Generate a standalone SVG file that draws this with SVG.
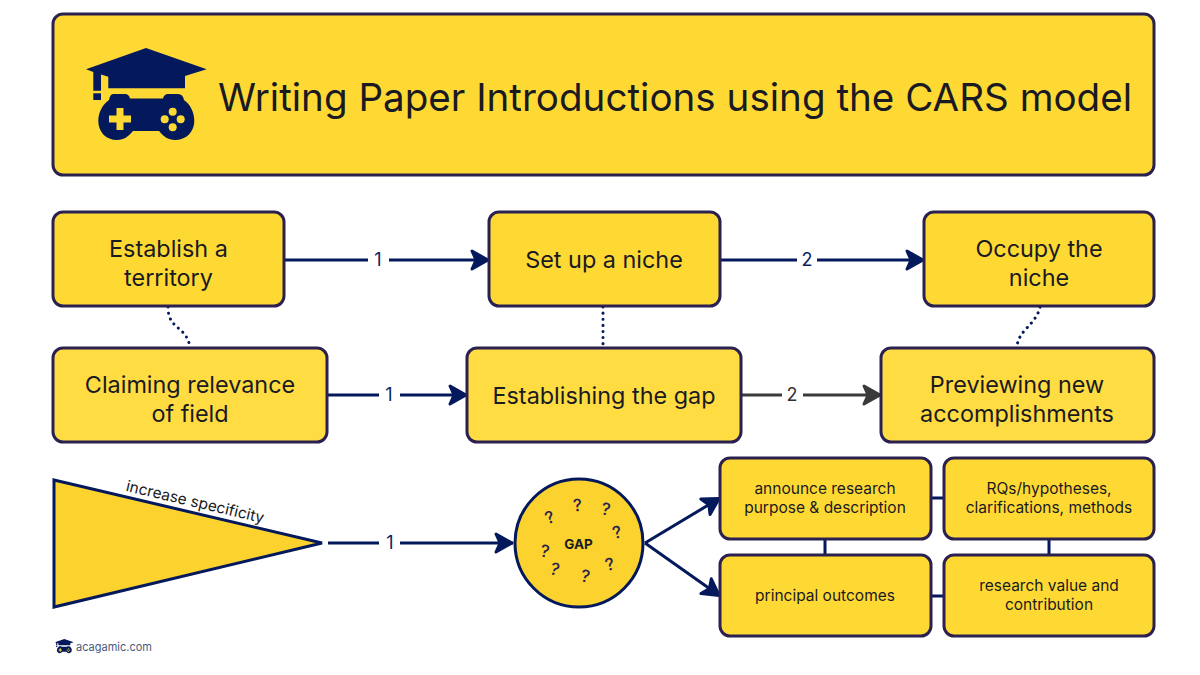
<svg xmlns="http://www.w3.org/2000/svg" width="1200" height="675" viewBox="0 0 1200 675">
<style>
text{font-family:"Inter","Noto Sans",sans-serif;fill:#1a1a22;text-anchor:middle}
.box{fill:#ffd933;stroke:#2a2150;stroke-width:3}
.box2{fill:#ffdc42;stroke:#2a2150;stroke-width:3}
.big{font-size:23.400px}
.small{font-size:15.500px}
.lbl{font-size:18px;fill:#0b1f5e}
.conn{fill:none;stroke:#04195c;stroke-width:3}
.gray{stroke:#3a3a3a}
.dot{fill:none;stroke:#04195c;stroke-width:3;stroke-dasharray:0.1 6;stroke-linecap:round}
.q{font-size:17px;font-weight:500;fill:#2a2150}
.ic{fill:#04195c}
.icy{fill:#ffd933}
</style>
<defs>
<marker id="a" markerUnits="userSpaceOnUse" markerWidth="26" markerHeight="28" refX="21" refY="14" orient="auto"><path d="M4 5 L20 14 L4 23 L8 14 Z" fill="#04195c" stroke="#04195c" stroke-width="3" stroke-linejoin="round"/></marker>
<marker id="g" markerUnits="userSpaceOnUse" markerWidth="26" markerHeight="28" refX="21" refY="14" orient="auto"><path d="M4 5 L20 14 L4 23 L8 14 Z" fill="#3a3a3a" stroke="#3a3a3a" stroke-width="3" stroke-linejoin="round"/></marker>
<g id="logo">
<path class="ic" d="M146 48 L206.700 69.300 L185 76 V88.300 H108.300 V76.700 L101 74.500 V90.700 H93.300 V72 L86 69.300 Z"/>
<rect class="ic" x="93.300" y="93.300" width="7.700" height="6.700"/>
<path class="ic" d="M113 94 H125 Q129 94 130 98.500 H163 Q164 94 168 94 H178 Q183 94 184 100 C190 104 194.300 112 194.300 121 C194.300 132 186 140 175 140 C168 140 163 136 159 131 H133 C129 136 124 140 117 140 C106 140 98.300 132 98.300 121 C98.300 112 103 104 109 100 Q110 94 113 94 Z"/>
<path class="icy" d="M116.500 108 H123.500 V115.500 H131 V122.500 H123.500 V130 H116.500 V122.500 H109 V115.500 H116.500 Z"/>
<circle class="icy" cx="172.700" cy="111.700" r="4"/>
<circle class="icy" cx="172.700" cy="127.300" r="4"/>
<circle class="icy" cx="164.700" cy="119.300" r="4"/>
<circle class="icy" cx="180.700" cy="119.300" r="4"/>
</g>
</defs>
<rect width="1200" height="675" fill="#fff"/>
<g id="connectors">
<path class="conn" d="M285 260H368M389 260H489" marker-end="url(#a)"/>
<path class="conn" d="M720 260H797M817 260H924" marker-end="url(#a)"/>
<path class="conn" d="M328 395H379M400 395H467" marker-end="url(#a)"/>
<path class="conn gray" d="M741 395H782M803 395H881" marker-end="url(#g)"/>
<path class="conn" d="M328 543H379M400 543H513" marker-end="url(#a)"/>
<path class="conn" d="M645 543L720 498" marker-end="url(#a)"/>
<path class="conn" d="M645 543L720 596" marker-end="url(#a)"/>
<path class="conn" d="M931 498H944M931 596H944M825 539V555M1049 539V555"/>
<path class="dot" d="M168 307C168 330 186 325 190 347"/>
<path class="dot" d="M603 307V347"/>
<path class="dot" d="M1040 307C1036 325 1018 330 1017 347"/>
<text class="lbl" x="378" y="266">1</text>
<text class="lbl" x="807" y="266">2</text>
<text class="lbl" x="389" y="401">1</text>
<text class="lbl" x="792" y="401" style="fill:#333">2</text>
<text class="lbl" x="390" y="549">1</text>
</g>
<g id="header">
<rect class="box" x="53" y="14" width="1101" height="161" rx="10"/>
<use href="#logo"/>
<text x="675" y="111" style="font-size:38.600px">Writing Paper Introductions using the CARS model</text>
</g>
<g id="n-territory"><rect class="box" x="53" y="212" width="231" height="94" rx="10"/><text class="big" x="168.500" y="257">Establish a</text><text class="big" x="168.500" y="286">territory</text></g>
<g id="n-niche"><rect class="box" x="489" y="212" width="231" height="94" rx="10"/><text class="big" x="604" y="268">Set up a niche</text></g>
<g id="n-occupy"><rect class="box" x="924" y="212" width="230" height="94" rx="10"/><text class="big" x="1039" y="257">Occupy the</text><text class="big" x="1039" y="286">niche</text></g>
<g id="n-claiming"><rect class="box2" x="53" y="348" width="274" height="94" rx="10"/><text class="big" x="190" y="393">Claiming relevance</text><text class="big" x="190" y="422">of field</text></g>
<g id="n-gap"><rect class="box2" x="467" y="348" width="274" height="94" rx="10"/><text class="big" x="604" y="404">Establishing the gap</text></g>
<g id="n-preview"><rect class="box2" x="881" y="348" width="273" height="94" rx="10"/><text class="big" x="1017" y="393">Previewing new</text><text class="big" x="1017" y="422">accomplishments</text></g>
<g id="triangle">
<path d="M54 480L322 543L54 607Z" fill="#fbd22e" stroke="#04195c" stroke-width="3"/>
<text transform="translate(194 507) rotate(13.200)" style="font-size:15.400px">increase specificity</text>
</g>
<g id="gap-circle">
<circle cx="579" cy="543" r="64" fill="#fbd22e" stroke="#04195c" stroke-width="3"/>
<text x="578.500" y="549" style="font-size:13.500px;font-weight:700">GAP</text>
<text class="q" transform="translate(551.700 523) rotate(-20)">?</text>
<text class="q" transform="translate(578 511) rotate(-5)">?</text>
<text class="q" transform="translate(605 515) rotate(10)">?</text>
<text class="q" transform="translate(618.700 538) rotate(-15)">?</text>
<text class="q" transform="translate(544 557) rotate(10)">?</text>
<text class="q" transform="translate(553.300 575) rotate(15)">?</text>
<text class="q" transform="translate(584.300 582) rotate(10)">?</text>
<text class="q" transform="translate(611.300 570) rotate(-15)">?</text>
</g>
<g id="n-announce"><rect class="box" x="720" y="458" width="211" height="81" rx="10"/><text class="small" x="825" y="494">announce research</text><text class="small" x="825" y="513">purpose &amp; description</text></g>
<g id="n-rqs"><rect class="box" x="944" y="458" width="210" height="81" rx="10"/><text class="small" x="1049" y="494">RQs/hypotheses,</text><text class="small" x="1049" y="513">clarifications, methods</text></g>
<g id="n-outcomes"><rect class="box" x="720" y="555" width="211" height="81" rx="10"/><text class="small" x="825" y="601">principal outcomes</text></g>
<g id="n-value"><rect class="box" x="944" y="555" width="210" height="81" rx="10"/><text class="small" x="1049" y="591">research value and</text><text class="small" x="1049" y="610">contribution</text></g>
<g id="footer">
<use href="#logo" transform="translate(41.670 631.560) scale(0.155)"/>
<text x="76" y="651" style="font-size:11px;fill:#4a5a7a;text-anchor:start">acagamic.com</text>
</g>
</svg>
